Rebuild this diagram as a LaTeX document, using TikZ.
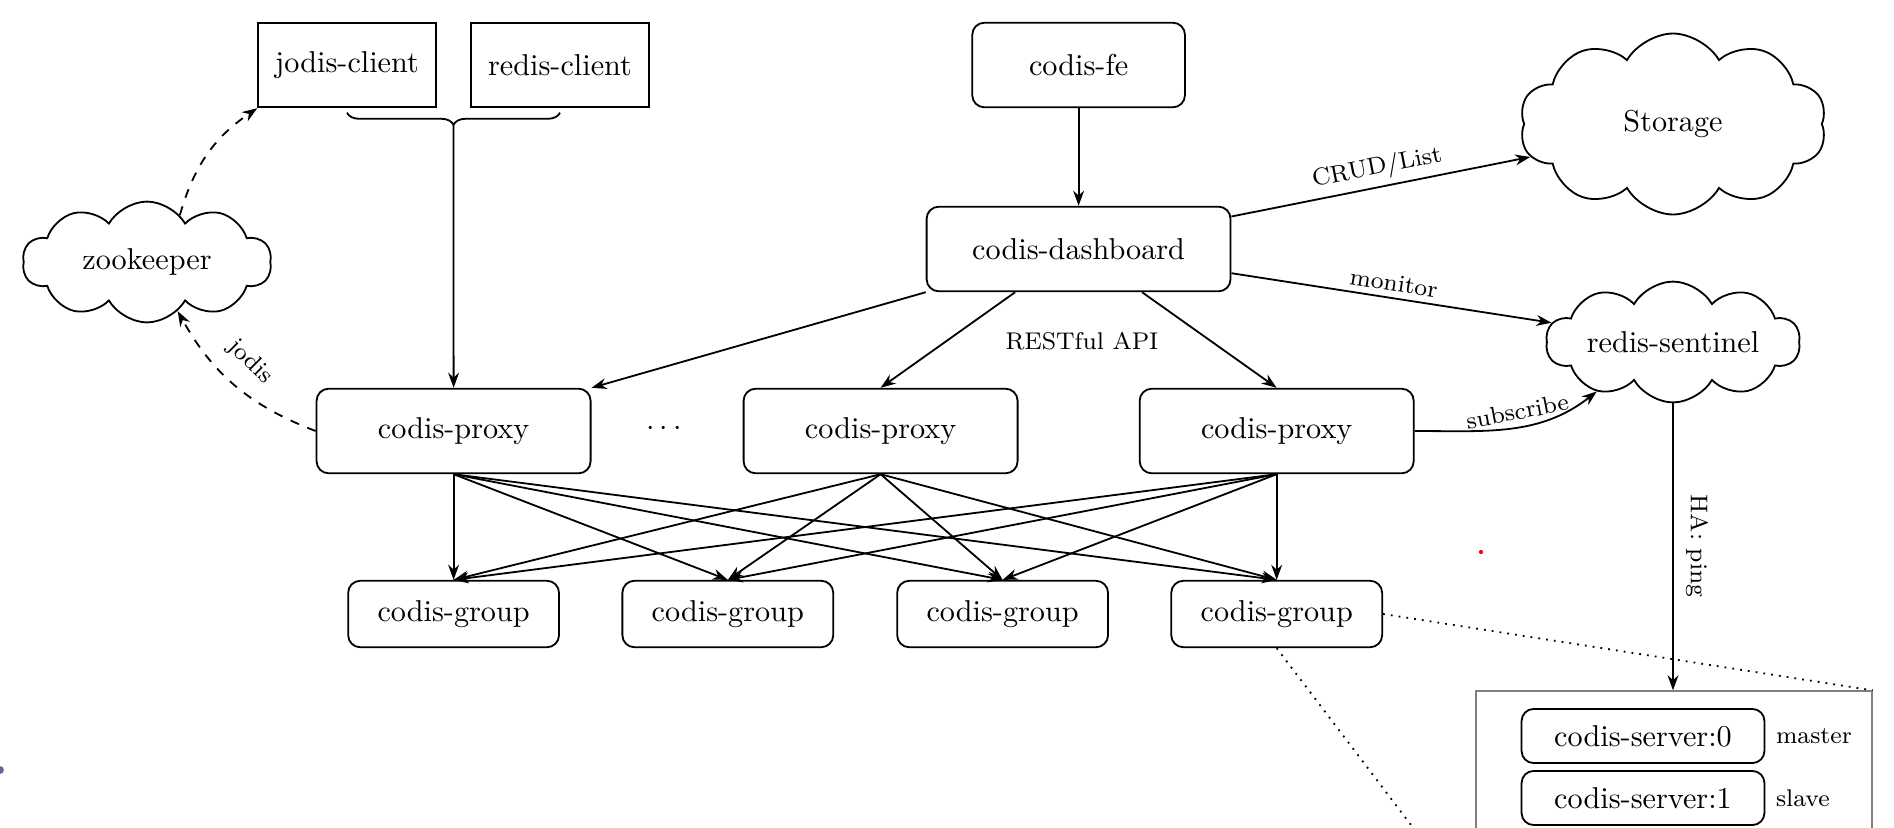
\documentclass[tikz,border=0pt]{standalone}
\usetikzlibrary{shapes.symbols, arrows.meta, decorations.pathreplacing, calc}
\begin{document}
\begin{tikzpicture}[x=0.331pt, y=-0.331pt,
  >={Stealth[length=5pt, width=3.6pt]},
  box/.style={draw, semithick, rounded corners=4pt, minimum height=28pt, inner sep=2pt},
  sqbox/.style={draw, semithick, minimum width=58.8pt, minimum height=28pt, inner sep=2pt},
  cl/.style={draw, semithick, cloud, cloud puffs=10, cloud puff arc=120, cloud ignores aspect, inner sep=1pt},
  proxy/.style={box, minimum width=90.7pt},
  grp/.style={box, minimum width=69.8pt, minimum height=22pt},
  srv/.style={box, minimum width=80.4pt, minimum height=17.9pt},
  lbl/.style={font=\footnotesize, inner sep=2pt},
  conn/.style={->, semithick}
]
\clip (0,0) rectangle (1894,827);

% top row
\node[sqbox] (jc) at (347,65) {jodis-client};
\node[sqbox] (rc) at (560,65) {redis-client};
\node[box, minimum width=70.4pt] (fe) at (1078.6,65) {codis-fe};
\node[box, minimum width=100.6pt] (db) at (1078.6,249) {codis-dashboard};

% clouds
\node[cl, minimum width=82.4pt, minimum height=40pt] (zk) at (147,262) {zookeeper};
\node[cl, minimum width=101.6pt, minimum height=59.9pt] (st) at (1673,124) {Storage};
\node[cl, minimum width=84.1pt, minimum height=40pt] (sen) at (1673,342) {redis-sentinel};

% proxies
\node[proxy] (p1) at (453.6,431) {codis-proxy};
\node (dots) at (664,429) {$\cdots$};
\node[proxy] (p2) at (880.6,431) {codis-proxy};
\node[proxy] (p3) at (1276.7,431) {codis-proxy};

% groups
\node[grp] (g1) at (453.6,614) {codis-group};
\node[grp] (g2) at (727.8,614) {codis-group};
\node[grp] (g3) at (1002.6,614) {codis-group};
\node[grp] (g4) at (1276.7,614) {codis-group};

% group detail
\node[draw=gray, minimum width=131.1pt, minimum height=72.2pt] (gb) at (1674,800) {};
\node[srv] (s0) at (1643,736) {codis-server:0};
\node[srv] (s1) at (1643,798) {codis-server:1};
\node[right, font=\footnotesize] (ms) at (s0.east) {master};
\node[right, font=\footnotesize] (sl) at (s1.east) {slave};

% brace
\draw[semithick, decorate, decoration={brace, mirror, amplitude=4pt}]
  ([yshift=-1.5pt]jc.south) -- ([yshift=-1.5pt]rc.south);
\coordinate (tip) at ($($(jc.south)!0.5!(rc.south)$)+(0,-5.5pt)$);
\draw[conn] (tip) -- (p1.north);

% zookeeper links
\draw[->, semithick, dashed] (zk.55) to[bend left=20] (jc.south west);
\draw[->, semithick, dashed] (p1.west) to[bend left=20] (zk.-58);
\node[lbl, rotate=-45] (jl) at (250,362) {jodis};

% dashboard links
\draw[conn] (fe.south) -- (db.north);
\draw[conn] (db.south west) -- (p1.north east);
\draw[conn] ([xshift=-21pt]db.south) -- (p2.north);
\draw[conn] ([xshift=21pt]db.south) -- (p3.north);
\node[lbl] (rest) at (1082,341) {RESTful API};
\draw[conn] (db.12) -- node[lbl, midway, sloped, above] {CRUD/List} (st.193);
\draw[conn] (db.-9) -- node[lbl, midway, sloped, above] {monitor} (sen.171);
\draw[conn] (p3.east) to[out=0, in=218]
  node[lbl, pos=0.55, sloped, above] {subscribe} (sen.213);
\draw[conn] (sen.south) -- (sen.south |- gb.north);
\node[lbl, rotate=-90] (ha) at (1697,546) {HA: ping};

% proxy -> group
\foreach \p in {p1,p2,p3}{
  \foreach \g in {g1,g2,g3,g4}{
    \draw[conn] (\p.south) -- (\g.north);
  }
}

% zoom lines
\draw[dotted, semithick] (g4.east) -- (gb.north east);
\draw[dotted, semithick] (g4.south) -- (gb.south west);

% stray marks
\fill[red] (1481,552) circle (0.7pt);
\fill[black!70!blue!60] (0,770) circle (1.3pt);
\end{tikzpicture}
\end{document}
